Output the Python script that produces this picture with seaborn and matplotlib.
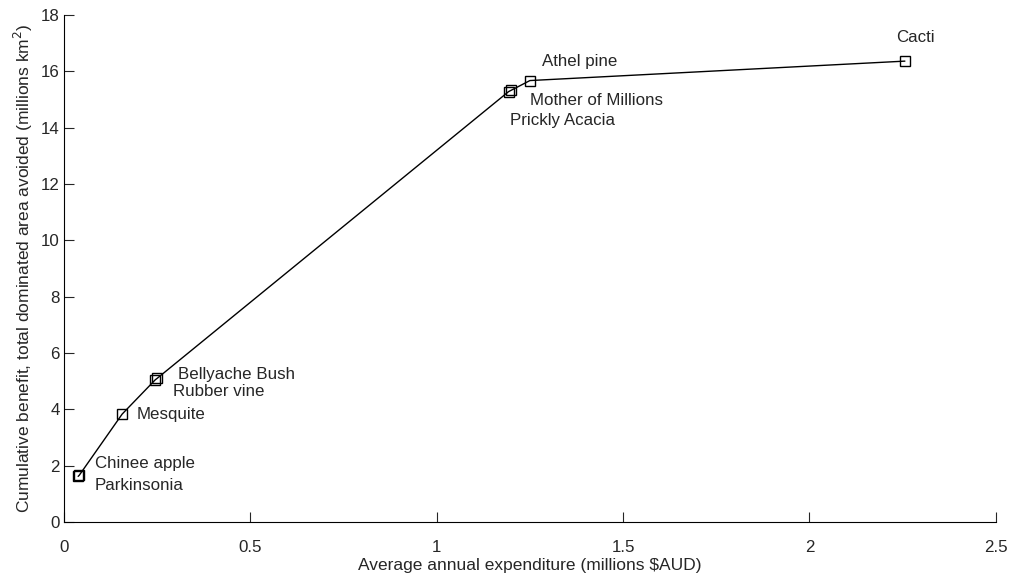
import pandas as pd
import matplotlib.pyplot as plt
import seaborn as sns

# cumulative benefit curve
species = ["Parkinsonia", "Chinee apple", "Mesquite", "Rubber vine", "Bellyache Bush",
           "Prickly Acacia", "Mother of Millions", "Athel pine", "Cacti"]
expenditure = [0.038, 0.041, 0.156, 0.245, 0.250, 1.193, 1.199, 1.250, 2.256]
benefit = [1.62, 1.66, 3.83, 5.05, 5.10, 15.28, 15.32, 15.67, 16.36]

# label anchor points (data coords)
label_x = [0.083, 0.083, 0.196, 0.292, 0.306, 1.196, 1.25, 1.282, 2.232]
label_y = [1.31, 2.09, 3.83, 4.62, 5.25, 14.27, 14.95, 16.33, 17.2]


def main():
    df = pd.DataFrame({"x": expenditure, "y": benefit, "name": species})

    sns.set_style("white")
    plt.rcParams["font.family"] = ["Liberation Sans", "DejaVu Sans"]
    plt.rcParams["font.size"] = 12

    fig = plt.figure(figsize=(10.11, 5.74), dpi=100)
    ax = fig.add_axes([0.0633, 0.0906, 0.9217, 0.8834])

    sns.lineplot(data=df, x="x", y="y", sort=False, color="black", linewidth=1,
                 marker="s", markersize=7, markerfacecolor="none",
                 markeredgecolor="black", markeredgewidth=1, ax=ax)

    for name, lx, ly in zip(species, label_x, label_y):
        ax.text(lx, ly, name, ha="left", va="center", fontsize=12.2)

    ax.set_xlim(0, 2.5)
    ax.set_ylim(0, 18)
    ax.set_xticks([0, 0.5, 1, 1.5, 2, 2.5])
    ax.set_xticklabels(["0", "0.5", "1", "1.5", "2", "2.5"])
    ax.set_yticks(range(0, 19, 2))
    ax.tick_params(direction="in", length=7, width=0.8, labelsize=12.2,
                   left=True, bottom=True)
    ax.tick_params(axis="x", pad=13)
    ax.tick_params(axis="y", pad=3)
    for side in ["top", "right"]:
        ax.spines[side].set_visible(False)
    for side in ["left", "bottom"]:
        ax.spines[side].set_color("black")
        ax.spines[side].set_linewidth(0.8)

    ax.set_xlabel("Average annual expenditure (millions $AUD)", fontsize=12.5, labelpad=2)
    ax.set_ylabel("Cumulative benefit, total dominated area avoided (millions km$^2$)",
                  fontsize=12.5, labelpad=4)

    fig.savefig("out.png", dpi=100)


if __name__ == "__main__":
    main()
